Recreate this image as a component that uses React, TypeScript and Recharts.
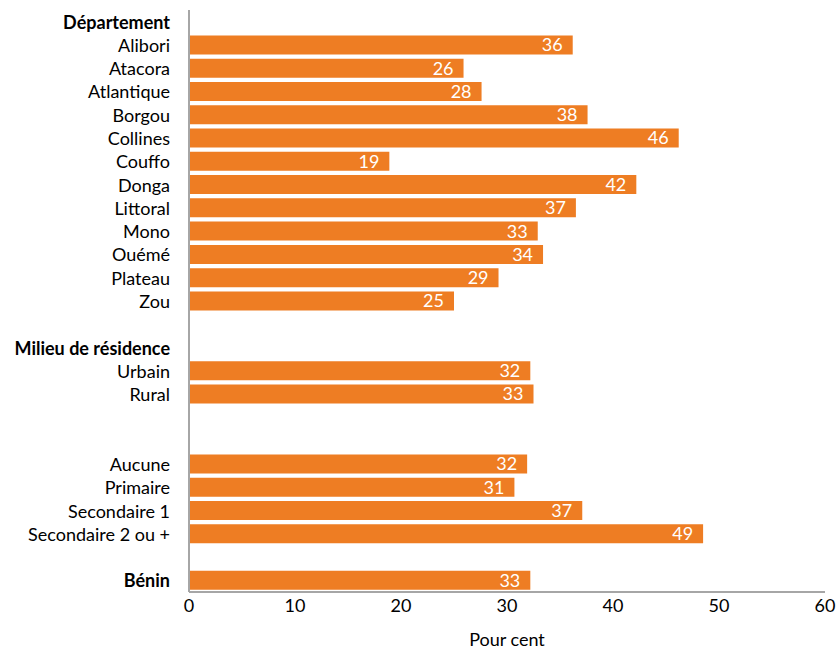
import { BarChart, Bar, XAxis, YAxis, LabelList } from 'recharts';

const categories = [
  'Département', 'Alibori', 'Atacora', 'Atlantique', 'Borgou', 'Collines', 'Couffo', 'Donga',
  'Littoral', 'Mono', 'Ouémé', 'Plateau', 'Zou', '',
  'Milieu de résidence', 'Urbain', 'Rural', '', '',
  'Aucune', 'Primaire', 'Secondaire 1', 'Secondaire 2 ou +', '', 'Bénin',
];

// bar lengths
const values = [
  null, 36.2, 25.9, 27.6, 37.6, 46.2, 18.9, 42.2, 36.5, 32.9, 33.4, 29.2, 25.0, null,
  null, 32.2, 32.5, null, null,
  31.9, 30.7, 37.1, 48.5, null, 32.2,
];

// printed labels
const shown = [
  null, 36, 26, 28, 38, 46, 19, 42, 37, 33, 34, 29, 25, null,
  null, 32, 33, null, null,
  32, 31, 37, 49, null, 33,
];

const headers = ['Département', 'Milieu de résidence', 'Bénin'];
const xTicks = [0, 10, 20, 30, 40, 50, 60];

const data = categories.map((name, i) => ({ key: String(i), name, value: values[i], label: shown[i] }));

const FONT = 'Lato, "Open Sans", sans-serif';
const SIZE = 18;

function RowTick(props: any) {
  const { x, y, payload } = props;
  const name = categories[Number(payload.value)];
  return (
    <text
      x={x}
      y={y}
      textAnchor="end"
      dominantBaseline="central"
      fontFamily={FONT}
      fontSize={SIZE}
      fontWeight={headers.includes(name) ? 700 : 400}
      fill="#000"
    >
      {name}
    </text>
  );
}

export default function App() {
  return (
    <div style={{ position: 'absolute', left: 0, top: 0, width: 836, height: 650 }}>
      <BarChart
        layout="vertical"
        width={836}
        height={650}
        data={data}
        margin={{ top: 10, right: 11, bottom: 8, left: 0 }}
        barCategoryGap="9%"
      >
        <XAxis
          type="number"
          domain={[0, 60]}
          ticks={xTicks}
          tickLine={false}
          axisLine={{ stroke: '#A6A6A6', strokeWidth: 2 }}
          tick={{ fill: '#000', fontSize: SIZE, fontFamily: FONT }}
          tickSize={5}
          height={50}
          label={{ value: 'Pour cent', position: 'insideBottom', offset: -4, fill: '#000', fontSize: SIZE, fontFamily: FONT }}
        />
        <YAxis
          type="category"
          dataKey="key"
          width={189}
          tickLine={false}
          tickMargin={13}
          interval={0}
          axisLine={{ stroke: '#A6A6A6', strokeWidth: 2 }}
          tick={<RowTick />}
        />
        <Bar dataKey="value" fill="#EE7D23" isAnimationActive={false}>
          <LabelList dataKey="label" position="insideRight" offset={10} fill="#fff" fontSize={SIZE} fontFamily={FONT} />
        </Bar>
      </BarChart>
    </div>
  );
}
